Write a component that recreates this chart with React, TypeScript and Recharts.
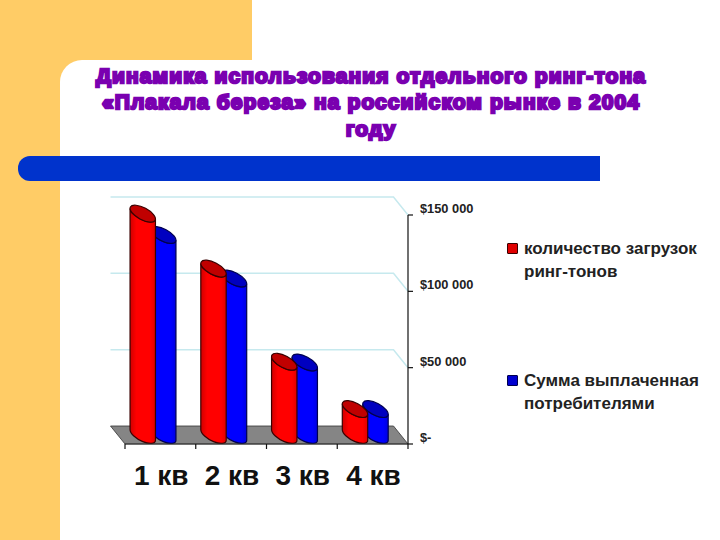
import React from "react";
import { BarChart, Bar, XAxis, YAxis, CartesianGrid } from "recharts";

const categories = ["1 кв", "2 кв", "3 кв", "4 кв"];
const downloads = [145000, 109000, 48000, 17000];
const payouts = [131000, 102500, 47500, 17000];
const yTicks = [0, 50000, 100000, 150000];
const yTickLabels = ["$-", "$50 000", "$100 000", "$150 000"];
const titleLines = [
  "Динамика использования отдельного ринг-тона",
  "«Плакала береза» на российском рынке в 2004",
  "году",
];
const legendRed = ["количество загрузок", "ринг-тонов"];
const legendBlue = ["Сумма выплаченная", "потребителями"];

const data = categories.map((name, i) => ({ name, downloads: downloads[i], payouts: payouts[i] }));

const FONT = '"Liberation Sans", Arial, sans-serif';
const DEPTH_X = 14.5;
const DEPTH_Y = 18;

const makeCylinder = (dx: number, gradient: string, cap: string, edge: string) => (props: any) => {
  const { x, y, width, height } = props;
  const cx = x + width / 2 + dx;
  const top = y - 9;
  const bot = y + height - 9;
  const ex = 12.7;
  const ey = 5.2;
  const rx = 14;
  const ry = 6;
  const rot = 28;
  const d = `M${cx - ex},${top - ey} L${cx - ex},${bot - ey} A${rx},${ry} ${rot} 0 0 ${cx + ex},${bot + ey} L${cx + ex},${top + ey} A${rx},${ry} ${rot} 0 1 ${cx - ex},${top - ey} Z`;
  return (
    <g>
      <path d={d} fill={gradient} stroke={edge} strokeWidth={1.2} />
      <ellipse cx={cx} cy={top} rx={rx} ry={ry} transform={`rotate(${rot} ${cx} ${top})`} fill={cap} stroke={edge} strokeWidth={1.2} />
    </g>
  );
};

const RedCylinder = makeCylinder(-17.25, "url(#redBody)", "#C00000", "#3A0000");
const BlueCylinder = makeCylinder(3.25, "url(#blueBody)", "#0000C0", "#000050");

const GridLine = (props: any) => {
  const { x1, x2, y1 } = props;
  if (y1 > 440) {
    const pts = `${x1},${y1} ${x2},${y1} ${x2 - DEPTH_X},${y1 - DEPTH_Y} ${x1 - DEPTH_X},${y1 - DEPTH_Y}`;
    return <polygon points={pts} fill="#858585" stroke="#333333" strokeWidth={0.8} />;
  }
  return (
    <polyline
      points={`${x1 - DEPTH_X},${y1 - DEPTH_Y} ${x2 - DEPTH_X},${y1 - DEPTH_Y} ${x2},${y1}`}
      fill="none"
      stroke="#C6E9EE"
      strokeWidth={1.5}
    />
  );
};

const XTick = (props: any) => {
  const { x, y, payload, index } = props;
  const half = 283 / categories.length / 2;
  return (
    <g>
      <line x1={x - half} x2={x - half} y1={y} y2={y + 5} stroke="#111" strokeWidth={1.2} />
      {index === categories.length - 1 && (
        <line x1={x + half} x2={x + half} y1={y} y2={y + 5} stroke="#111" strokeWidth={1.2} />
      )}
      <text x={x + 0.8} y={485} textAnchor="middle" fontFamily={FONT} fontWeight="bold" fontSize={28} fill="#111">
        {payload.value}
      </text>
    </g>
  );
};

const YTick = (props: any) => {
  const { y, payload } = props;
  const i = yTicks.indexOf(payload.value);
  return (
    <text x={420} y={y - 2} textAnchor="start" fontFamily={FONT} fontWeight="bold" fontSize={12.8} fill="#222">
      {yTickLabels[i]}
    </text>
  );
};

const LegendEntry = ({ top, color, edge, lines }: { top: number; color: string; edge: string; lines: string[] }) => (
  <div style={{ position: "absolute", left: 507, top, width: 210 }}>
    <div style={{ position: "absolute", left: 0, top: 0, width: 9, height: 9, background: color, border: `1.5px solid ${edge}`, borderRadius: 1 }} />
    <div style={{ position: "absolute", left: 17, top: -5, fontFamily: FONT, fontWeight: "bold", fontSize: 17, lineHeight: "22.5px", color: "#222", whiteSpace: "nowrap" }}>
      {lines.map((l) => (
        <div key={l}>{l}</div>
      ))}
    </div>
  </div>
);

export default function App() {
  return (
    <div style={{ position: "absolute", left: 0, top: 0, width: 720, height: 540, overflow: "hidden", background: "#FFFFFF" }}>
      <div style={{ position: "absolute", left: 0, top: 0, width: 252, height: 540, background: "#FFCC66" }} />
      <div style={{ position: "absolute", left: 60, top: 60, width: 660, height: 480, background: "#FFFFFF", borderTopLeftRadius: 22 }} />
      <div style={{ position: "absolute", left: 18, top: 156, width: 582, height: 25, background: "#0033CC", borderRadius: "12px 0 0 12px" }} />
      <div
        style={{
          position: "absolute",
          left: 71,
          top: 62.5,
          width: 600,
          textAlign: "center",
          fontFamily: FONT,
          fontWeight: "bold",
          fontSize: 21,
          letterSpacing: 1.1,
          lineHeight: "26.5px",
          color: "#7A00B0",
          WebkitTextStroke: "2.4px #7A00B0",
          whiteSpace: "nowrap",
        }}
      >
        {titleLines.map((l) => (
          <div key={l}>{l}</div>
        ))}
      </div>

      <div style={{ position: "absolute", left: 0, top: 0 }}>
        <BarChart
          width={720}
          height={540}
          data={data}
          margin={{ top: 215, right: 240, bottom: 66, left: 125 }}
          barSize={26}
          barGap={-26}
        >
          <defs>
            <linearGradient id="redBody" x1="0" y1="0" x2="1" y2="0">
              <stop offset="0" stopColor="#D00000" />
              <stop offset="0.25" stopColor="#FF0000" />
              <stop offset="0.8" stopColor="#FF0000" />
              <stop offset="1" stopColor="#E00000" />
            </linearGradient>
            <linearGradient id="blueBody" x1="0" y1="0" x2="1" y2="0">
              <stop offset="0" stopColor="#0000D0" />
              <stop offset="0.25" stopColor="#0000FF" />
              <stop offset="0.8" stopColor="#0000FF" />
              <stop offset="1" stopColor="#0000E0" />
            </linearGradient>
          </defs>
          <CartesianGrid vertical={false} horizontal={GridLine as any} />
          <XAxis dataKey="name" height={30} tickSize={0} tickMargin={0} tickLine={false} axisLine={{ stroke: "#333", strokeWidth: 1 }} tick={XTick as any} interval={0} />
          <YAxis
            orientation="right"
            width={72}
            domain={[0, 150000]}
            ticks={yTicks}
            tickSize={5}
            tickLine={{ stroke: "#111", strokeWidth: 1.2 }}
            axisLine={{ stroke: "#111", strokeWidth: 1.2 }}
            tick={YTick as any}
            interval={0}
          />
          <Bar dataKey="payouts" fill="#0000FF" isAnimationActive={false} shape={BlueCylinder as any} />
          <Bar dataKey="downloads" fill="#FF0000" isAnimationActive={false} shape={RedCylinder as any} />
        </BarChart>
      </div>

      <LegendEntry top={243} color="#E00000" edge="#3A0000" lines={legendRed} />
      <LegendEntry top={375} color="#0000D0" edge="#000050" lines={legendBlue} />
    </div>
  );
}
